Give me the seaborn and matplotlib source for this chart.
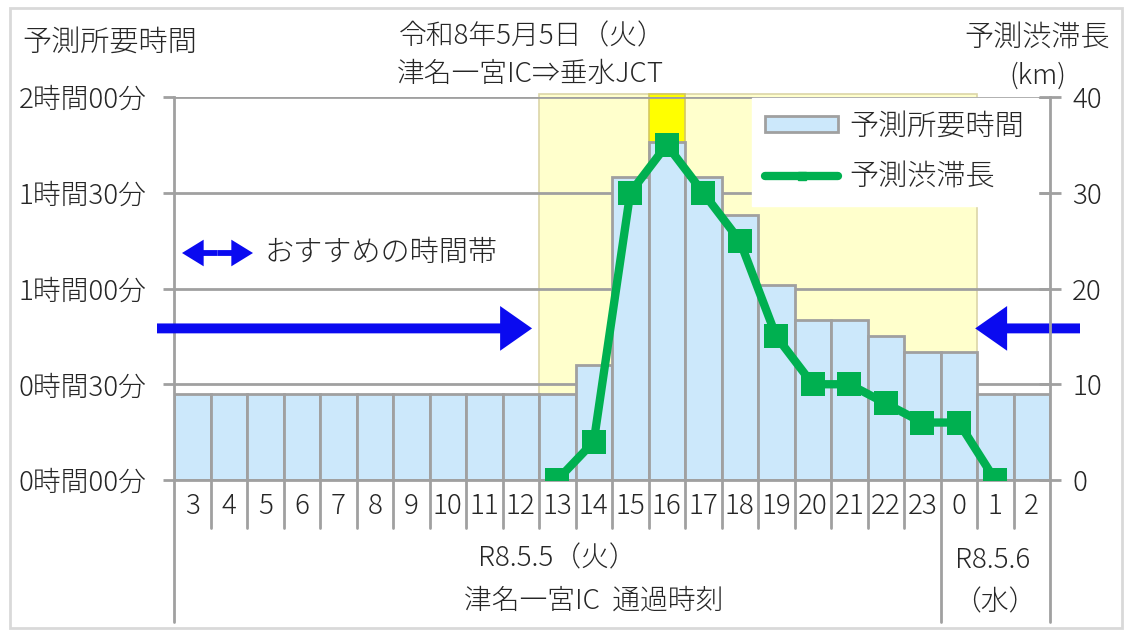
import numpy as np
import pandas as pd
import matplotlib
matplotlib.use("Agg")
import matplotlib.pyplot as plt
import seaborn as sns
from matplotlib.patches import Patch, Rectangle
from matplotlib.lines import Line2D

# data
hours = ["3", "4", "5", "6", "7", "8", "9", "10", "11", "12", "13", "14",
         "15", "16", "17", "18", "19", "20", "21", "22", "23", "0", "1", "2"]
travel_min = [27, 27, 27, 27, 27, 27, 27, 27, 27, 27, 27, 36,
              95, 106, 95, 83, 61, 50, 50, 45, 40, 40, 27, 27]
jam_km = [np.nan, np.nan, np.nan, np.nan, np.nan, np.nan, np.nan, np.nan, np.nan, np.nan, 0, 4,
          30, 35, 30, 25, 15, 10, 10, 8, 6, 6, 0, np.nan]
min_ticks = [0, 30, 60, 90, 120]
min_labels = ["0時間00分", "0時間30分", "1時間00分", "1時間30分", "2時間00分"]
km_ticks = [0, 10, 20, 30, 40]
shade_from, shade_to = "13", "0"
peak_hour = "16"
day2_first = "0"

W, H = 1137, 636
GREY = "#A0A0A0"
BAR = "#CCE8FB"
GREEN = "#00B050"
BLUE = "#0A0AF0"
PALE = "#FFFFCC"
FS = 20
FS_CJK = 21


def fx(x):
    return x / W


def fy(y):
    return 1 - y / H


sns.set_theme(style="white")
plt.rcParams["font.family"] = ["Noto Sans CJK JP", "DejaVu Sans"]
plt.rcParams["font.weight"] = "light"

df = pd.DataFrame({"hour": hours, "minutes": travel_min, "km": jam_km})

fig = plt.figure(figsize=(W / 100, H / 100), dpi=100)
ax = fig.add_axes([fx(174), fy(480), fx(1050) - fx(174), fy(97) - fy(480)])

# bars of predicted travel time
sns.barplot(data=df, x="hour", y="minutes", order=hours, color=BAR, saturation=1,
            width=1.0, edgecolor=GREY, linewidth=2, ax=ax, zorder=2)
ax.set_xlim(-0.5, len(hours) - 0.5)
ax.set_ylim(0, 120)

# highlighted congestion window
i0 = hours.index(shade_from)
i1 = hours.index(shade_to)
ip = hours.index(peak_hour)
ax.axvspan(i0 - 0.5, i1 + 0.5, ymin=0, ymax=121 / 120, facecolor=PALE,
           edgecolor="#DCD6A8", lw=1.2, zorder=0, clip_on=False)
ax.axvspan(ip - 0.5, ip + 0.5, ymin=0, ymax=121 / 120, facecolor="#FFFF00",
           edgecolor="#D4C860", lw=1.2, zorder=0.3, clip_on=False)

for t in min_ticks[1:]:
    ax.axhline(t, color=GREY, lw=2, zorder=1)

ax.set_yticks(min_ticks)
ax.set_yticklabels(min_labels)
ax.tick_params(axis="y", length=8, width=2, color=GREY, direction="out", pad=12,
               labelsize=FS, left=True)
ax.tick_params(axis="x", length=0, pad=9, labelsize=FS)
ax.set_xlabel("")
ax.set_ylabel("")
for s in ["top", "right"]:
    ax.spines[s].set_visible(False)
for s in ["left", "bottom"]:
    ax.spines[s].set_color(GREY)
    ax.spines[s].set_linewidth(2)

# category separators under the axis
xt = ax.get_xaxis_transform()
i_day2 = hours.index(day2_first)
for k in range(len(hours) + 1):
    long = k in (0, i_day2, len(hours))
    ax.plot([k - 0.5, k - 0.5], [0, -0.371 if long else -0.125], transform=xt,
            color=GREY, lw=2, clip_on=False, zorder=1)

# congestion length line
ax2 = ax.twinx()
sns.lineplot(x=np.arange(len(hours)), y=df["km"], ax=ax2, color=GREEN, lw=6,
             marker="s", markersize=17, markeredgewidth=0)
ax2.set_ylim(0, 40)
ax2.set_yticks(km_ticks)
ax2.set_ylabel("")
ax2.tick_params(axis="y", length=16, width=2, color=GREY, direction="inout", pad=8,
                labelsize=FS, right=True)
for s in ["top", "left", "bottom"]:
    ax2.spines[s].set_visible(False)
ax2.spines["right"].set_color(GREY)
ax2.spines["right"].set_linewidth(2)

handles = [Patch(facecolor=BAR, edgecolor=GREY, lw=2),
           Line2D([0], [0], color=GREEN, lw=6, marker="s", markersize=6)]
leg = ax2.legend(handles, ["予測所要時間", "予測渋滞長"], loc="upper left",
                 bbox_to_anchor=(fx(752), fy(98)), bbox_transform=fig.transFigure,
                 frameon=True, facecolor="white", edgecolor="white", fancybox=False,
                 framealpha=1, borderaxespad=0, fontsize=FS_CJK, handlelength=2.5,
                 handleheight=0.45, handletextpad=0.4, labelspacing=0.7, borderpad=0.45)

# recommended-time arrows
big = "simple,head_length=1.0,head_width=1.4,tail_width=0.31"
ax.annotate("", xy=(i0 - 0.5 - 0.19, 47.5), xytext=(157, 47.5),
            textcoords=("figure pixels", "data"),
            arrowprops=dict(arrowstyle=big, color=BLUE, lw=0, mutation_scale=23,
                            shrinkA=0, shrinkB=0), annotation_clip=False)
ax.annotate("", xy=(i1 + 0.5 - 0.05, 47.5), xytext=(1080, 47.5),
            textcoords=("figure pixels", "data"),
            arrowprops=dict(arrowstyle=big, color=BLUE, lw=0, mutation_scale=23,
                            shrinkA=0, shrinkB=0), annotation_clip=False)
small = "simple,head_length=1.3,head_width=1.6,tail_width=0.35"
for end in (182, 253):
    ax.annotate("", xy=(end, H - 253), xycoords="figure pixels", xytext=(217.5, H - 253),
                textcoords="figure pixels",
                arrowprops=dict(arrowstyle=small, color=BLUE, lw=0, mutation_scale=12,
                                shrinkA=0, shrinkB=0), annotation_clip=False)
fig.text(fx(265), fy(253), "おすすめの時間帯", fontsize=FS_CJK, ha="left", va="center")

# titles and axis labels
fig.text(fx(532), fy(36), "令和8年5月5日（火）", fontsize=FS, ha="center", va="center")
fig.text(fx(530), fy(74), "津名一宮IC⇒垂水JCT", fontsize=FS, ha="center", va="center")
fig.text(fx(22), fy(42), "予測所要時間", fontsize=FS_CJK, ha="left", va="center")
fig.text(fx(1110), fy(38), "予測渋滞長", fontsize=FS_CJK, ha="right", va="center")
fig.text(fx(1066), fy(76), "(km)", fontsize=FS, ha="right", va="center")

# group labels under the hours
fig.text(fx(557), fy(558), "R8.5.5（火）", fontsize=FS, ha="center", va="center")
fig.text(fx(594), fy(601), "津名一宮IC  通過時刻", fontsize=FS, ha="center", va="center")
fig.text(fx(993), fy(560), "R8.5.6", fontsize=FS, ha="center", va="center")
fig.text(fx(995), fy(602), "（水）", fontsize=FS, ha="center", va="center")

fig.add_artist(Rectangle((fx(10), fy(628)), fx(1122) - fx(10), fy(8) - fy(628),
                         transform=fig.transFigure, fill=False, edgecolor="#D9D9D9", lw=2))

fig.savefig("out.png", dpi=100)
